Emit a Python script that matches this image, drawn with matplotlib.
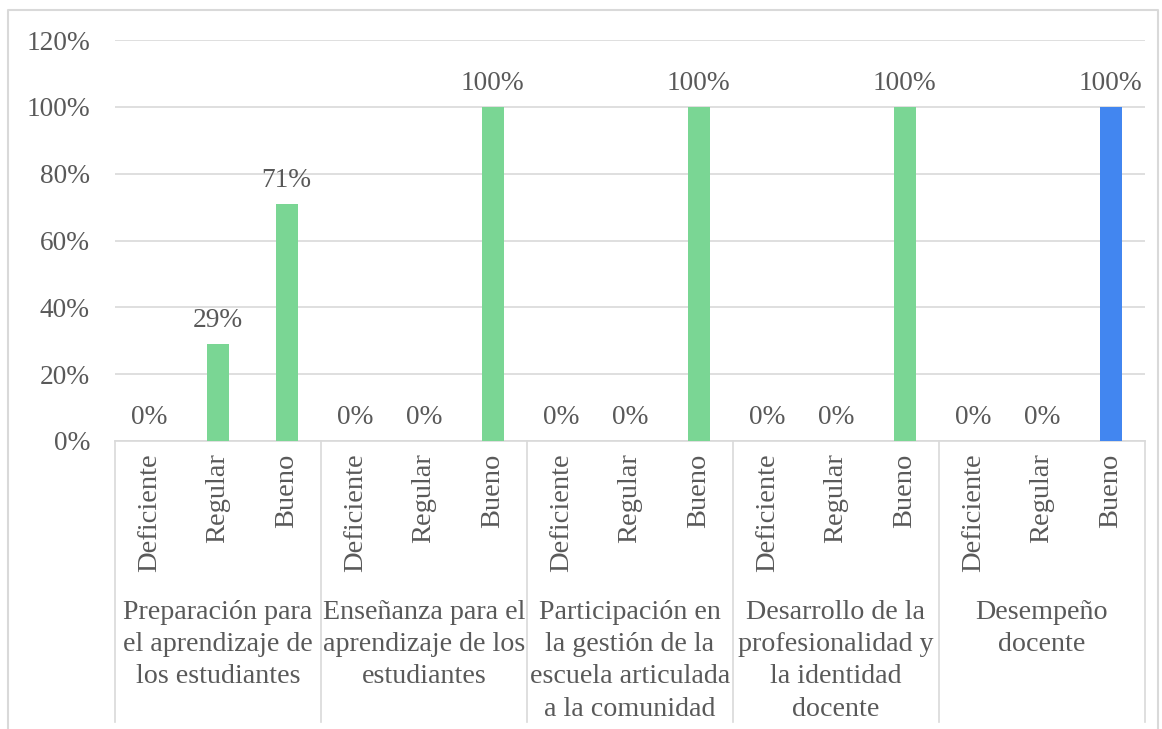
import numpy as np
import matplotlib
matplotlib.use('Agg')
import matplotlib.pyplot as plt
from matplotlib.lines import Line2D

plt.rcParams['font.family'] = ['Liberation Serif', 'DejaVu Serif']

# Chart data
groups = [
    'Preparación para\nel aprendizaje de\nlos estudiantes',
    'Enseñanza para el\naprendizaje de los\nestudiantes',
    'Participación en\nla gestión de la\nescuela articulada\na la comunidad',
    'Desarrollo de la\nprofesionalidad y\nla identidad\ndocente',
    'Desempeño\ndocente',
]
levels = ['Deficiente', 'Regular', 'Bueno']
values = [
    [0.00, 0.29, 0.71],
    [0.00, 0.00, 1.00],
    [0.00, 0.00, 1.00],
    [0.00, 0.00, 1.00],
    [0.00, 0.00, 1.00],
]
green = '#7AD694'
blue = '#4286F0'
bar_colors = [
    [green, green, green],
    [green, green, green],
    [green, green, green],
    [green, green, green],
    [green, green, blue],
]

text_color = '#595959'
grid_color = '#D9D9D9'
fs = 19.7

W, H = 1162, 729
fig = plt.figure(figsize=(W / 100, H / 100), dpi=100)

# plot area in pixels
x0, x1 = 115, 1145
y_top, y_base = 40, 441
ax = fig.add_axes([x0 / W, 1 - y_base / H, (x1 - x0) / W, (y_base - y_top) / H])

n = len(groups) * len(levels)
xs = np.arange(n)
flat_vals = [v for g in values for v in g]
flat_cols = [c for g in bar_colors for c in g]
flat_labels = [lv for _ in groups for lv in levels]

ax.bar(xs, flat_vals, width=0.32, color=flat_cols, zorder=3)
ax.set_xlim(-0.5, n - 0.5)
ax.set_ylim(0, 1.2)
ticks = np.arange(0, 1.21, 0.2)
ax.set_yticks(ticks)
ax.set_yticklabels([f'{int(round(t * 100))}%' for t in ticks],
                   fontsize=fs, color=text_color)
ax.yaxis.grid(True, color=grid_color, linewidth=1.2, zorder=0)
ax.tick_params(axis='y', length=0, pad=18)
for s in ['top', 'right', 'left']:
    ax.spines[s].set_visible(False)
ax.spines['bottom'].set_color(grid_color)
ax.spines['bottom'].set_linewidth(1.2)

# level labels (rotated)
ax.set_xticks(xs)
ax.set_xticklabels(flat_labels, rotation=90, fontsize=20.5, color=text_color)
ax.tick_params(axis='x', length=0, pad=9)

# data labels
for x, v in zip(xs, flat_vals):
    ax.annotate(f'{int(round(v * 100))}%', (x, v), xytext=(0, 8),
                textcoords='offset points', ha='center', va='bottom',
                fontsize=fs, color=text_color)

# group labels and separators
grp_w = (x1 - x0) / len(groups)
for i, g in enumerate(groups):
    cx = x0 + grp_w * (i + 0.5)
    fig.text(cx / W, 1 - 600 / H, g, ha='center', va='top', fontsize=20.2,
             color=text_color, linespacing=1.38)
for i in range(len(groups) + 1):
    px = x0 + grp_w * i
    fig.add_artist(Line2D([px / W, px / W], [1 - y_base / H, 1 - 722 / H],
                          color=grid_color, linewidth=1.2))

# outer chart border
bx0, bx1, by0 = 8, 1158, 10
fig.add_artist(Line2D([bx0 / W, bx0 / W, bx1 / W, bx1 / W],
                      [0, 1 - by0 / H, 1 - by0 / H, 0],
                      color=grid_color, linewidth=1.5))

fig.savefig('out.png', dpi=100)
